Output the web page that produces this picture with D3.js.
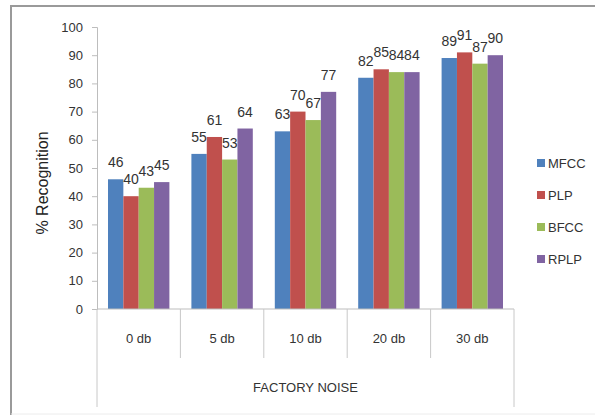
<!DOCTYPE html>
<html>
<head>
<meta charset="utf-8">
<script src="https://cdn.jsdelivr.net/npm/d3@7"></script>
<style>
  html, body { margin: 0; padding: 0; background: #fff; }
  svg { display: block; }
  text { font-family: "Liberation Sans", Arial, sans-serif; }
</style>
</head>
<body>
<svg id="chart" width="595" height="415"></svg>
<script>
// Recognition rates (%) under factory noise, by SNR level and feature type
const categories = ["0 db", "5 db", "10 db", "20 db", "30 db"];
const seriesNames = ["MFCC", "PLP", "BFCC", "RPLP"];
const mfcc = [46, 55, 63, 82, 89];
const plp  = [40, 61, 70, 85, 91];
const bfcc = [43, 53, 67, 84, 87];
const rplp = [45, 64, 77, 84, 90];
const yTicks = [0, 10, 20, 30, 40, 50, 60, 70, 80, 90, 100];
const colors = ["#4F81BD", "#C0504D", "#9BBB59", "#8064A2"];

const seriesValues = [mfcc, plp, bfcc, rplp];

const svg = d3.select("#chart");

// outer frame
svg.append("path")
  .attr("d", "M11,415 L11,6 L600,6")
  .attr("fill", "none").attr("stroke", "#9a9a9a").attr("stroke-width", 2);
svg.append("line")
  .attr("x1", 11).attr("x2", 600).attr("y1", 414).attr("y2", 414)
  .attr("stroke", "#ececec").attr("stroke-width", 1);

const plot = { left: 97, right: 514, top: 27, bottom: 309 };

const x0 = d3.scaleBand().domain(categories).range([plot.left, plot.right]).paddingInner(0).paddingOuter(0);
const x1 = d3.scaleBand().domain(seriesNames).range([11, x0.bandwidth() - 11]).padding(0);
const y = d3.scaleLinear().domain([0, 100]).range([plot.bottom, plot.top]);

// y axis
const yAxis = d3.axisLeft(y).tickValues(yTicks).tickSize(5).tickPadding(9);
const yg = svg.append("g").attr("transform", `translate(${plot.left},0)`).call(yAxis);
yg.select(".domain").attr("stroke", "#bdbdbd");
yg.selectAll(".tick line").attr("stroke", "#bdbdbd");
yg.selectAll(".tick text")
  .attr("fill", "#333").style("font-size", "13px")
  .style("font-family", "'Liberation Sans', Arial, sans-serif");

// bars
const groups = svg.append("g").selectAll("g")
  .data(categories)
  .join("g")
  .attr("transform", d => `translate(${x0(d)},0)`);

groups.selectAll("rect")
  .data((c, i) => seriesNames.map((s, j) => ({ s, j, v: seriesValues[j][i] })))
  .join("rect")
  .attr("x", d => x1(d.s))
  .attr("width", x1.bandwidth())
  .attr("y", d => y(d.v))
  .attr("height", d => y(0) - y(d.v))
  .attr("fill", d => colors[d.j]);

// value labels
groups.selectAll("text")
  .data((c, i) => seriesNames.map((s, j) => ({ s, j, v: seriesValues[j][i] })))
  .join("text")
  .attr("x", d => x1(d.s) + x1.bandwidth() / 2)
  .attr("y", d => y(d.v) - 12)
  .attr("text-anchor", "middle")
  .attr("fill", "#333")
  .style("font-size", "14px")
  .text(d => d.v);

// category axis: baseline + dividers
const axisG = svg.append("g");
axisG.append("line")
  .attr("x1", plot.left).attr("x2", plot.right)
  .attr("y1", plot.bottom).attr("y2", plot.bottom)
  .attr("stroke", "#bdbdbd");
const edges = categories.map(c => x0(c)).concat([plot.right]);
axisG.selectAll("line.div")
  .data(edges)
  .join("line")
  .attr("class", "div")
  .attr("x1", d => d).attr("x2", d => d)
  .attr("y1", plot.bottom)
  .attr("y2", (d, i) => (i === 0 || i === edges.length - 1) ? 407 : 358)
  .attr("stroke", "#c8c8c8");

axisG.selectAll("text.cat")
  .data(categories)
  .join("text")
  .attr("class", "cat")
  .attr("x", d => x0(d) + x0.bandwidth() / 2)
  .attr("y", 343)
  .attr("text-anchor", "middle")
  .attr("fill", "#333")
  .style("font-size", "13px")
  .text(d => d);

axisG.append("text")
  .attr("x", (plot.left + plot.right) / 2)
  .attr("y", 392)
  .attr("text-anchor", "middle")
  .attr("fill", "#333")
  .style("font-size", "13px")
  .text("FACTORY NOISE");

// y axis title
svg.append("text")
  .attr("transform", "translate(48,183) rotate(-90)")
  .attr("text-anchor", "middle")
  .attr("fill", "#222")
  .style("font-size", "16px")
  .text("% Recognition");

// legend
const legend = svg.append("g").selectAll("g")
  .data(seriesNames)
  .join("g")
  .attr("transform", (d, i) => `translate(537,${163 + i * 32})`);
legend.append("rect")
  .attr("x", 0).attr("y", -4).attr("width", 8).attr("height", 8)
  .attr("fill", (d, i) => colors[i]);
legend.append("text")
  .attr("x", 11).attr("y", 5)
  .attr("fill", "#333")
  .style("font-size", "13px")
  .text(d => d);
</script>
</body>
</html>
